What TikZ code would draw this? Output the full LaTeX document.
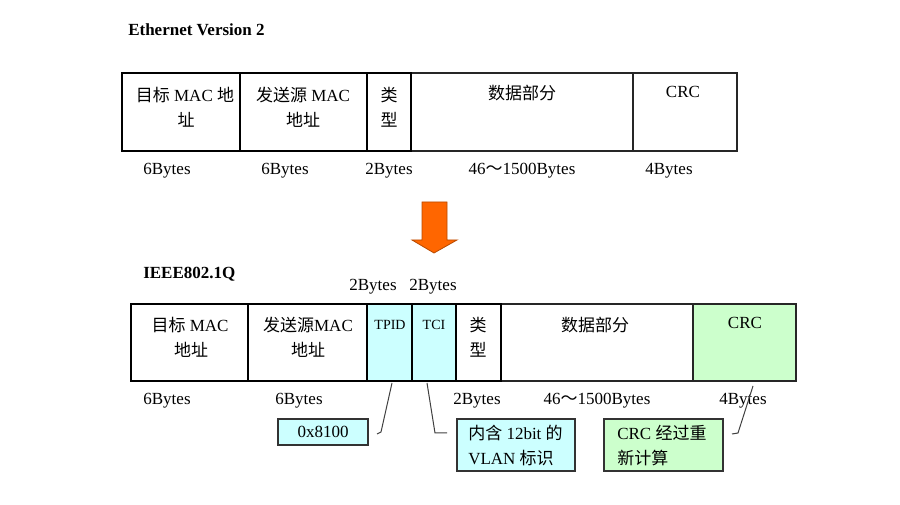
\documentclass[tikz,border=0pt]{standalone}
\usepackage{fontspec}
\setmainfont{Liberation Serif}
\newfontfamily\cjk{Noto Sans CJK SC}
\usetikzlibrary{fit}
\definecolor{cyanfill}{HTML}{CCFFFF}
\definecolor{greenfill}{HTML}{CCFFCC}
\definecolor{arroworange}{HTML}{FF6600}
\definecolor{arrowedge}{HTML}{B84A00}
\tikzset{
  thickbox/.style={draw=black, line width=1.7pt, inner sep=0pt},
  thinbox/.style={draw=black!85, line width=0.8pt, inner sep=0pt},
  callbox/.style={draw=black!80, line width=0.8pt, inner sep=0pt},
  txt/.style={anchor=base, inner sep=0pt, font=\fontsize{12.75}{15}\selectfont},
  txtl/.style={anchor=base west, inner sep=0pt, font=\fontsize{12.75}{15}\selectfont},
  small/.style={anchor=base, inner sep=0pt, font=\fontsize{10.5}{12}\selectfont},
  title/.style={anchor=base west, inner sep=0pt, font=\fontsize{12.75}{15}\selectfont\bfseries},
  leader/.style={draw=black!75, line width=0.75pt},
}
\begin{document}
\begin{tikzpicture}[x=0.75pt, y=-0.75pt]
\useasboundingbox (0,0) rectangle (900,505);

% ---------- Ethernet Version 2 ----------
\node[title] (ttl1) at (128,36) {Ethernet Version 2};

\node[thinbox, fit={(411,73)(633,151)}] (edata) {};
\node[thinbox, fit={(633,73)(737,151)}] (ecrc) {};
\node[thickbox, fit={(122,73)(240,151)}] (edst) {};
\node[thickbox, fit={(240,73)(367,151)}] (esrc) {};
\node[thickbox, fit={(367,73)(411,151)}] (etype) {};

\node[txt] (edst1) at (185,102) {{\cjk 目标} MAC {\cjk 地}};
\node[txt] (edst2) at (186,127) {\cjk 址};
\node[txt] (esrc1) at (303,102) {{\cjk 发送源} MAC};
\node[txt] (esrc2) at (303,127) {\cjk 地址};
\node[txt] (etype1) at (389,102) {\cjk 类};
\node[txt] (etype2) at (389,127) {\cjk 型};
\node[txt] (edata1) at (522,100) {\cjk 数据部分};
\node[txt] (ecrc1) at (683,98) {CRC};

\node[txt] (eb1) at (167,175) {6Bytes};
\node[txt] (eb2) at (285,175) {6Bytes};
\node[txt] (eb3) at (389,175) {2Bytes};
\node[txt] (eb4) at (522,175) {46{\cjk ～}1500Bytes};
\node[txt] (eb5) at (669,175) {4Bytes};

% ---------- arrow ----------
\draw[fill=arroworange, draw=arrowedge, line width=0.6pt]
  (422,202) -- (447,202) -- (447,240) -- (457,240) -- (434,253)
  -- (412,240) -- (422,240) -- cycle;

% ---------- IEEE802.1Q ----------
\node[title] (ttl2) at (143,279) {IEEE802.1Q};
\node[txt] (qb0a) at (373,291) {2Bytes};
\node[txt] (qb0b) at (433,291) {2Bytes};

\node[thinbox, fit={(501,304)(693,381)}] (qdata) {};
\node[thinbox, fill=greenfill, fit={(693,304)(796,381)}] (qcrc) {};
\node[thickbox, fit={(131,304)(248,381)}] (qdst) {};
\node[thickbox, fit={(248,304)(367,381)}] (qsrc) {};
\node[thickbox, fill=cyanfill, fit={(367,304)(412,381)}] (qtpid) {};
\node[thickbox, fill=cyanfill, fit={(412,304)(456,381)}] (qtci) {};
\node[thickbox, fit={(456,304)(501,381)}] (qtype) {};

\node[txt] (qdst1) at (190,332) {{\cjk 目标} MAC};
\node[txt] (qdst2) at (191,357) {\cjk 地址};
\node[txt] (qsrc1) at (308,332) {{\cjk 发送源}MAC};
\node[txt] (qsrc2) at (308,357) {\cjk 地址};
\node[small] (qtpid1) at (390,330) {TPID};
\node[small] (qtci1) at (434,330) {TCI};
\node[txt] (qtype1) at (478,332) {\cjk 类};
\node[txt] (qtype2) at (478,357) {\cjk 型};
\node[txt] (qdata1) at (595,332) {\cjk 数据部分};
\node[txt] (qcrc1) at (745,329) {CRC};

\node[txt] (qb1) at (167,405) {6Bytes};
\node[txt] (qb2) at (299,405) {6Bytes};
\node[txt] (qb3) at (477,405) {2Bytes};
\node[txt] (qb4) at (597,405) {46{\cjk ～}1500Bytes};
\node[txt] (qb5) at (743,405) {4Bytes};

% ---------- callouts ----------
\node[callbox, fill=cyanfill, fit={(278,419)(368,445)}] (c1) {};
\node[txt] (c1t) at (323,438) {0x8100};

\node[callbox, fill=cyanfill, fit={(457,419)(575,471)}] (c2) {};
\node[txtl] (c2a) at (468,440) {{\cjk 内含} 12bit {\cjk 的}};
\node[txtl] (c2b) at (468,465) {VLAN {\cjk 标识}};

\node[callbox, fill=greenfill, fit={(604,419)(723,471)}] (c3) {};
\node[txtl] (c3a) at (617,440) {CRC {\cjk 经过重}};
\node[txtl] (c3b) at (617,465) {\cjk 新计算};

% ---------- leaders ----------
\coordinate (l1a) at (392,383);
\coordinate (l1b) at (381,432);
\coordinate (l1c) at (377,434);
\draw[leader] (l1a) -- (l1b) -- (l1c);

\coordinate (l2a) at (427,383);
\coordinate (l2b) at (435,433);
\coordinate (l2c) at (447,433);
\draw[leader] (l2a) -- (l2b) -- (l2c);

\coordinate (l3a) at (753,386);
\coordinate (l3b) at (738,433);
\coordinate (l3c) at (732,434);
\draw[leader] (l3a) -- (l3b) -- (l3c);
\end{tikzpicture}
\end{document}
